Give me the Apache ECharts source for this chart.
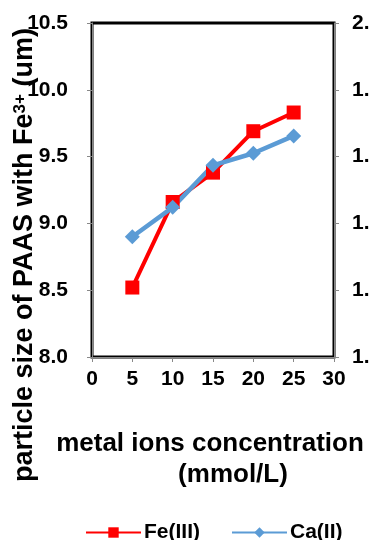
<!DOCTYPE html>
<html><head><meta charset="utf-8">
<script src="https://cdn.jsdelivr.net/npm/echarts@6/dist/echarts.min.js"></script>
<style>html,body{margin:0;padding:0;background:#fff}#c{width:370px;height:540px}</style>
</head><body><div id="c"></div>
<script>
const concentrations = [5, 10, 15, 20, 25];
const feValues = [8.52, 9.16, 9.38, 9.69, 9.83];
const caValues = [1.680, 1.724, 1.787, 1.805, 1.831];
const xTicks = [0, 30, 5];
const leftTicks = [8.0, 10.5, 0.5];
const rightTicks = [1.5, 2.0, 0.1];

const F = 'Liberation Sans, Arial, sans-serif';
const chart = echarts.init(document.getElementById('c'));
const lbl = {color:'#000', fontWeight:'bold', fontSize:21, fontFamily:F};
chart.setOption({
  animation:false,
  grid:{left:92, right:36, top:23, bottom:183, containLabel:false, outerBoundsMode:'none',
    show:true, borderColor:'#000', borderWidth:3, backgroundColor:'transparent'},
  xAxis:{type:'value', min:xTicks[0], max:xTicks[1], interval:xTicks[2],
    axisLine:{show:true, lineStyle:{color:'#888'}},
    axisTick:{show:true, length:5, lineStyle:{color:'#888'}},
    splitLine:{show:false},
    axisLabel:Object.assign({margin:12}, lbl)},
  yAxis:[
    {type:'value', min:leftTicks[0], max:leftTicks[1], interval:leftTicks[2], position:'left',
     axisLine:{show:true, lineStyle:{color:'#888'}},
     axisTick:{show:true, length:5, lineStyle:{color:'#888'}},
     splitLine:{show:false},
     axisLabel:Object.assign({margin:24, formatter:v=>v.toFixed(1)}, lbl)},
    {type:'value', min:rightTicks[0], max:rightTicks[1], interval:rightTicks[2], position:'right',
     axisLine:{show:true, lineStyle:{color:'#888'}},
     axisTick:{show:true, length:5, lineStyle:{color:'#888'}},
     splitLine:{show:false},
     axisLabel:Object.assign({margin:18, formatter:v=>v.toFixed(1)}, lbl)}
  ],
  legend:{left:80, top:517, itemWidth:55, itemHeight:13, itemGap:31,
    textStyle:{color:'#000', fontWeight:'bold', fontSize:21, fontFamily:F, padding:[0,0,0,-2]},
    data:['Fe(III)','Ca(II)']},
  series:[
    {name:'Fe(III)', type:'line', yAxisIndex:0, data:concentrations.map((x,i)=>[x,feValues[i]]),
     symbol:'rect', symbolSize:14, color:'#ff0000', lineStyle:{width:4, color:'#ff0000'}, itemStyle:{color:'#ff0000'}},
    {name:'Ca(II)', type:'line', yAxisIndex:1, data:concentrations.map((x,i)=>[x,caValues[i]]),
     symbol:'diamond', symbolSize:[15,15], color:'#5b9bd5', lineStyle:{width:4.5, color:'#5b9bd5'}, itemStyle:{color:'#5b9bd5'}}
  ],
  graphic:[
    {type:'text', x:25, y:255, rotation:Math.PI/2, style:{
      text:'{a|particle size of PAAS with Fe}{s|3+}{a| (um)}', align:'center', verticalAlign:'middle',
      rich:{a:{fontSize:27, fontWeight:'bold', fontFamily:F, fill:'#000', color:'#000'},
            s:{fontSize:17, fontWeight:'bold', fontFamily:F, fill:'#000', color:'#000', verticalAlign:'top', padding:[0,0,10,0]}}}},
    {type:'text', x:210, y:444, style:{text:'metal ions concentration', align:'center', verticalAlign:'middle',
      fontSize:26, fontWeight:'bold', fontFamily:F, fill:'#000'}},
    {type:'text', x:233, y:475, style:{text:'(mmol/L)', align:'center', verticalAlign:'middle',
      fontSize:26, fontWeight:'bold', fontFamily:F, fill:'#000'}}
  ]
});
</script></body></html>
